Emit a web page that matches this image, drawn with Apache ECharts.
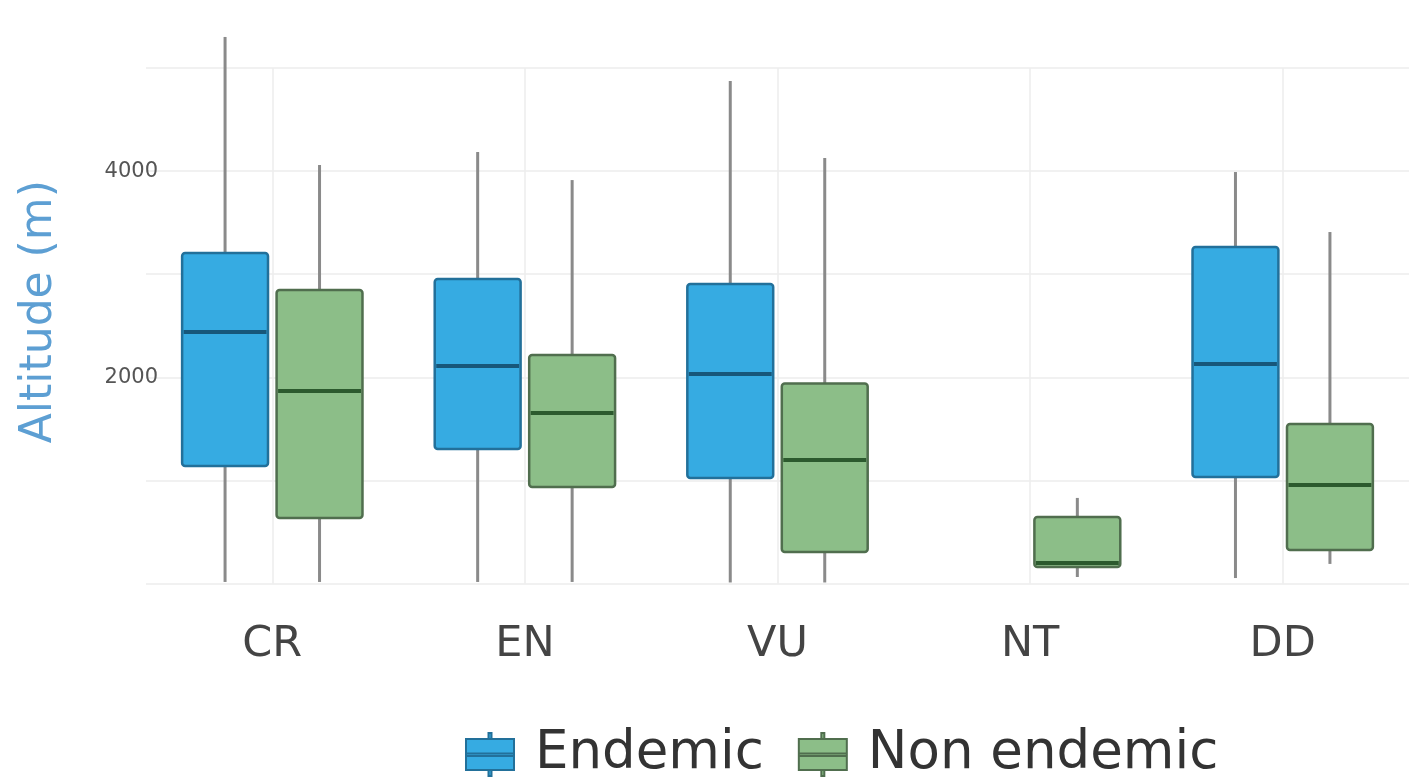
<!DOCTYPE html>
<html>
<head>
<meta charset="utf-8">
<script src="https://cdn.jsdelivr.net/npm/echarts@6/dist/echarts.min.js"></script>
<style>
html,body{margin:0;padding:0;background:#fff;}
#chart{width:1427px;height:780px;}
</style>
</head>
<body>
<div id="chart"></div>
<script>
// ---- data ----
const categories = ['CR', 'EN', 'VU', 'NT', 'DD'];
const seriesNames = ['Endemic', 'Non endemic'];
// [low whisker, Q1, median, Q3, high whisker]; null = no box
const endemicLow    = [15,   15,   10,   null, 53];
const endemicQ1     = [1140, 1305, 1023, null, 1033];
const endemicMedian = [2440, 2110, 2032, null, 2129];
const endemicQ3     = [3206, 2954, 2905, null, 3264];
const endemicHigh   = [5301, 4185, 4874, null, 3991];

const nonLow    = [15,   15,   10,   63,  190];
const nonQ1     = [635,  936,  306,  160, 325];
const nonMedian = [1867, 1654, 1198, 199, 955];
const nonQ3     = [2847, 2216, 1940, 645, 1547];
const nonHigh   = [4059, 3913, 4127, 830, 3409];

const yTickLabels = [2000, 4000];

function buildData(low, q1, med, q3, high) {
  const out = [];
  categories.forEach((c, i) => {
    if (med[i] == null) return;
    out.push([i, low[i], q1[i], med[i], q3[i], high[i]]);
  });
  return out;
}

const styles = [
  { fill: '#36abe2', border: '#22709a', median: '#17577a', offset: -0.187 },
  { fill: '#8cbe88', border: '#506e4e', median: '#2c5a2e', offset: 0.187 }
];
const boxFrac = 0.34;
const whiskerColor = '#8a8a8a';

function makeRender(st) {
  return function (params, api) {
    const idx = api.value(0);
    const band = api.size([1, 0])[0];
    const cx = api.coord([idx, 0])[0] + st.offset * band;
    const w = boxFrac * band;
    const yLow = api.coord([idx, api.value(1)])[1];
    const yQ1 = api.coord([idx, api.value(2)])[1];
    const yMed = api.coord([idx, api.value(3)])[1];
    const yQ3 = api.coord([idx, api.value(4)])[1];
    const yHigh = api.coord([idx, api.value(5)])[1];
    return {
      type: 'group',
      children: [
        { type: 'line', shape: { x1: cx, y1: yHigh, x2: cx, y2: yQ3 }, style: { stroke: whiskerColor, lineWidth: 3 } },
        { type: 'line', shape: { x1: cx, y1: yQ1, x2: cx, y2: yLow }, style: { stroke: whiskerColor, lineWidth: 3 } },
        { type: 'rect', shape: { x: cx - w / 2, y: yQ3, width: w, height: yQ1 - yQ3, r: 3 },
          style: { fill: st.fill, stroke: st.border, lineWidth: 2.5 } },
        { type: 'line', shape: { x1: cx - w / 2 + 1.5, y1: yMed, x2: cx + w / 2 - 1.5, y2: yMed },
          style: { stroke: st.median, lineWidth: 4 } }
      ]
    };
  };
}

const iconPath = 'path://M23.5,0h3v6h-3z M1,6h48v31h-48z M1,20.5h48v2.5h-48z M23.5,37h3v6h-3z';

const chart = echarts.init(document.getElementById('chart'));
chart.setOption({
  backgroundColor: '#ffffff',
  animation: false,
  textStyle: { fontFamily: 'DejaVu Sans' },
  grid: { left: 146, right: 18, top: 68, bottom: 196.5, containLabel: false, outerBoundsMode: 'none' },
  legend: {
    left: 460,
    top: 723,
    itemWidth: 52,
    itemHeight: 43,
    itemGap: 34,
    textStyle: { fontSize: 53, color: '#333', fontFamily: 'DejaVu Sans', padding: [0, 0, 0, 14] },
    data: seriesNames.map((n, i) => ({
      name: n,
      icon: iconPath,
      itemStyle: { color: styles[i].fill, borderColor: styles[i].border, borderWidth: 2 }
    }))
  },
  xAxis: {
    type: 'category',
    data: categories,
    axisLine: { show: false },
    axisTick: { show: false, alignWithLabel: true },
    splitLine: { show: true, alignWithLabel: true, lineStyle: { color: '#ededed', width: 1.5 } },
    axisLabel: { fontSize: 43, color: '#444', margin: 40, fontFamily: 'DejaVu Sans' }
  },
  yAxis: {
    type: 'value',
    min: 0,
    max: 5000,
    interval: 1000,
    name: 'Altitude (m)',
    nameLocation: 'middle',
    nameGap: 84,
    nameTextStyle: { fontSize: 44, color: '#5d9fd3', fontFamily: 'DejaVu Sans', padding: [0, 0, 0, 28] },
    axisLine: { show: false },
    axisTick: { show: false },
    splitLine: { lineStyle: { color: '#ededed', width: 1.5 } },
    axisLabel: {
      fontSize: 21, color: '#555', margin: -12,
      formatter: v => (yTickLabels.indexOf(v) >= 0 ? String(v) : '')
    }
  },
  series: [
    {
      name: seriesNames[0], type: 'custom', clip: false,
      itemStyle: { color: styles[0].fill },
      encode: { x: 0, y: [1, 2, 3, 4, 5] },
      renderItem: makeRender(styles[0]),
      data: buildData(endemicLow, endemicQ1, endemicMedian, endemicQ3, endemicHigh)
    },
    {
      name: seriesNames[1], type: 'custom', clip: false,
      itemStyle: { color: styles[1].fill },
      encode: { x: 0, y: [1, 2, 3, 4, 5] },
      renderItem: makeRender(styles[1]),
      data: buildData(nonLow, nonQ1, nonMedian, nonQ3, nonHigh)
    }
  ]
});
</script>
</body>
</html>
